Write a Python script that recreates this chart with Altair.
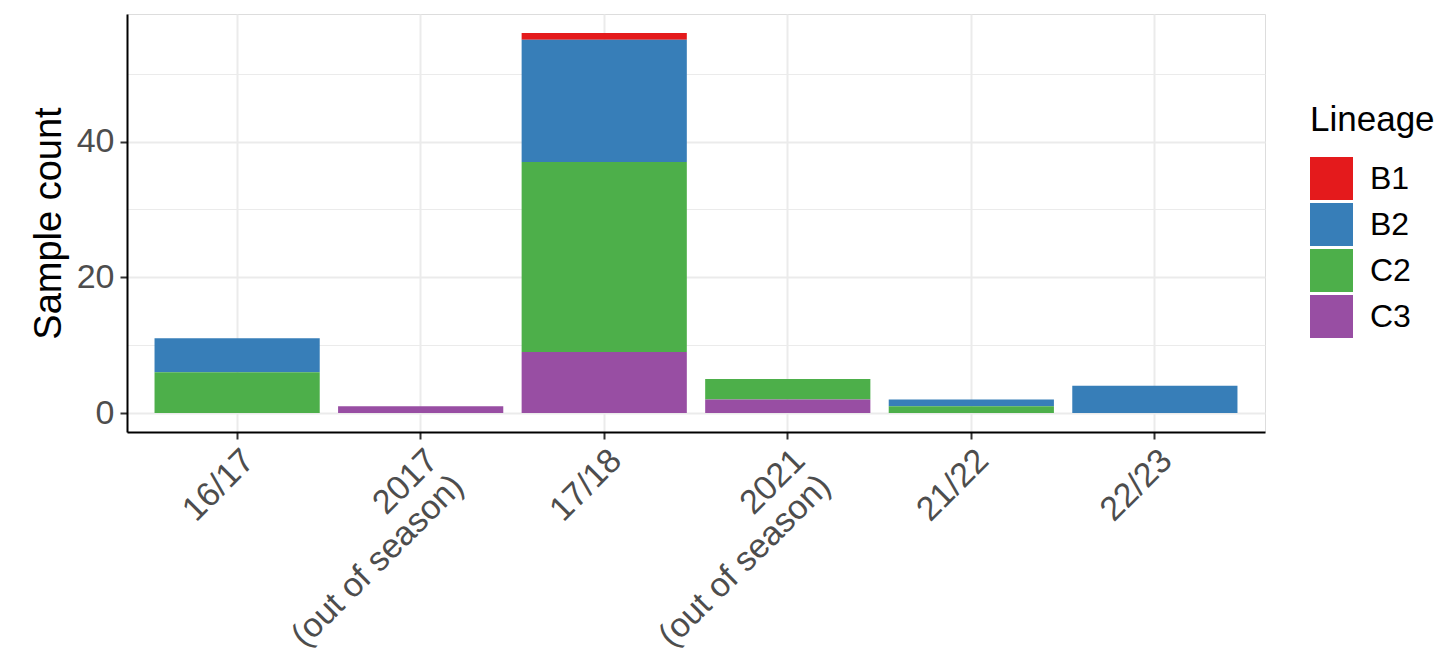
import altair as alt
import pandas as pd

seasons = ["16/17", "2017|(out of season)", "17/18", "2021|(out of season)", "21/22", "22/23"]
lineages = ["B1", "B2", "C2", "C3"]
colors = ["#E41A1C", "#377EB8", "#4DAF4A", "#984EA3"]
B1 = [0, 0, 1, 0, 0, 0]
B2 = [5, 0, 18, 0, 1, 4]
C2 = [6, 0, 28, 3, 1, 0]
C3 = [0, 1, 9, 2, 0, 0]
y_major = [0, 20, 40]
y_minor = [10, 30, 50]

series = {"B1": B1, "B2": B2, "C2": C2, "C3": C3}
stack_rank = {"C3": 0, "C2": 1, "B2": 2, "B1": 3}
rows = []
for lin, vals in series.items():
    for s, v in zip(seasons, vals):
        if v > 0:
            rows.append({"season": s, "Lineage": lin, "count": v, "rank": stack_rank[lin]})
df = pd.DataFrame(rows)

FONT = "Liberation Sans"
ydom = [-2.8, 58.8]
major_test = "indexof(" + str(y_major) + ", datum.value) >= 0"

yscale = alt.Scale(domain=ydom, nice=False, zero=False)

yaxis = alt.Axis(
    title="Sample count",
    values=sorted(y_major + y_minor),
    labelExpr=major_test + " ? datum.label : ''",
    labelFontSize=34,
    labelColor="#4D4D4D",
    labelFont=FONT,
    labelPadding=6,
    tickSize=7,
    tickColor="#333333",
    tickWidth=2,
    tickOpacity={"condition": {"test": major_test, "value": 1}, "value": 0},
    domainColor="#000000",
    domainWidth=2,
    grid=True,
    gridColor="#EBEBEB",
    gridWidth={"condition": {"test": major_test, "value": 2}, "value": 1},
    titleFontSize=38,
    titleFont=FONT,
    titleFontWeight="normal",
    titleColor="#000000",
    titlePadding=8,
)

bars = alt.Chart(df).mark_bar(strokeWidth=0).encode(
    x=alt.X(
        "season:N",
        sort=seasons,
        scale=alt.Scale(paddingInner=0.1, paddingOuter=0.15),
        axis=alt.Axis(
            title=None,
            labelAngle=-45,
            labelAlign="right",
            labelBaseline="top",
            labelExpr="split(datum.value, '|')",
            labelFontSize=34,
            labelLineHeight=36,
            labelColor="#4D4D4D",
            labelFont=FONT,
            labelPadding=4,
            labelLimit=1000,
            tickSize=7,
            tickColor="#333333",
            tickWidth=2,
            domainColor="#000000",
            domainWidth=2,
            grid=True,
            gridColor="#EBEBEB",
            gridWidth=2,
            bandPosition=0.5,
            labelOverlap=False,
        ),
    ),
    y=alt.Y("count:Q", stack="zero", scale=yscale, axis=yaxis),
    color=alt.Color(
        "Lineage:N",
        scale=alt.Scale(domain=lineages, range=colors),
        legend=alt.Legend(
            orient="none",
            legendX=1183,
            legendY=89,
            symbolType="square",
            symbolSize=1849,
            symbolStrokeWidth=0,
            symbolOpacity=1,
            labelFontSize=32,
            labelFont=FONT,
            labelColor="#000000",
            labelOffset=17,
            titleFontSize=35,
            titleFont=FONT,
            titleFontWeight="normal",
            titleColor="#000000",
            titlePadding=19,
            rowPadding=3,
        ),
    ),
    order=alt.Order("rank:Q", sort="ascending"),
)

chart = (
    bars
    .properties(
        width=1138,
        height=418,
        autosize=alt.AutoSizeParams(type="none"),
        padding={"left": 119, "top": 6, "right": 177, "bottom": 230},
    )
    .configure_view(strokeWidth=0, stroke="transparent")
    .configure(background="#FFFFFF")
)

chart.save("out.html", embed_options={"renderer": "svg", "actions": False})
